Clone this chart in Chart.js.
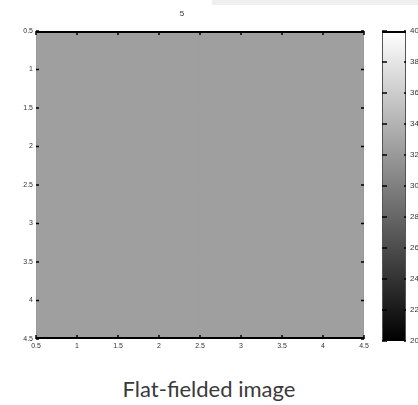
<!DOCTYPE html>
<html>
<head>
<meta charset="utf-8">
<script src="https://cdn.jsdelivr.net/npm/chart.js@4.4.1/dist/chart.umd.min.js"></script>
<style>
  html, body { margin: 0; padding: 0; background: #fff; overflow: hidden; width: 418px; height: 405px; position: relative; }
  #imgBox { position: absolute; left: 0; top: 0; width: 380px; height: 360px; }
  #cbarBox { position: absolute; left: 370px; top: 0; width: 60px; height: 360px; }
  #topStrip { position: absolute; left: 212px; top: 0; width: 206px; height: 5px; background: #efefef; }
  #caption { position: absolute; left: 0; width: 418px; top: 375px; text-align: center;
             font-family: Lato, "Noto Sans", sans-serif; font-size: 22px; color: #3a3a3a; }
</style>
</head>
<body>
<div id="topStrip"></div>
<div id="imgBox"><canvas id="imageChart"></canvas></div>
<div id="cbarBox"><canvas id="cbarChart"></canvas></div>
<div id="caption">Flat-fielded image</div>
<script>
// image frame 5: 4x4 pixels, all flat after flat-fielding
const frameTitle = '5';
const colIndex = [1, 2, 3, 4];
const rowIndex = [1, 2, 3, 4];
const pixelValues = [
  [32.5, 32.5, 32.5, 32.5],
  [32.5, 32.5, 32.5, 32.5],
  [32.5, 32.5, 32.5, 32.5],
  [32.5, 32.5, 32.5, 32.5]
];
const axisTicks = [0.5, 1, 1.5, 2, 2.5, 3, 3.5, 4, 4.5];
const cbarRange = [20, 40];
const cbarTicks = [20, 22, 24, 26, 28, 30, 32, 34, 36, 38, 40];

const tickFont = { family: 'Liberation Sans, Arial, sans-serif', size: 7 };
const tickColor = '#333';

function grayFor(v) {
  let t = (v - cbarRange[0]) / (cbarRange[1] - cbarRange[0]);
  t = Math.max(0, Math.min(1, t));
  const g = Math.round(t * 255);
  return `rgb(${g},${g},${g})`;
}

// MATLAB-like frame with inward tick marks
const frameTicks = {
  id: 'frameTicks',
  afterDraw(chart, args, opts) {
    const ctx = chart.ctx;
    const a = chart.chartArea;
    ctx.save();
    // left / right edges
    ctx.strokeStyle = opts.sideColor || '#888';
    ctx.lineWidth = 1;
    ctx.beginPath();
    ctx.moveTo(a.left + 0.5, a.top); ctx.lineTo(a.left + 0.5, a.bottom);
    ctx.moveTo(a.right - 0.5, a.top); ctx.lineTo(a.right - 0.5, a.bottom);
    ctx.stroke();
    // top / bottom edges
    ctx.strokeStyle = '#000';
    ctx.lineWidth = 2;
    ctx.beginPath();
    ctx.moveTo(a.left, a.top + 1); ctx.lineTo(a.right, a.top + 1);
    if (opts.bottomLine !== false) { ctx.moveTo(a.left, a.bottom - 1); ctx.lineTo(a.right, a.bottom - 1); }
    ctx.stroke();
    ctx.lineWidth = 1.5;
    ctx.beginPath();
    const xs = chart.scales.x;
    if (opts.xTicks !== false) {
      xs.ticks.forEach(t => {
        const px = xs.getPixelForValue(t.value);
        ctx.moveTo(px, a.top); ctx.lineTo(px, a.top + 4);
        ctx.moveTo(px, a.bottom); ctx.lineTo(px, a.bottom - 4);
      });
    }
    const ys = chart.scales.y;
    const inL = opts.leftLen || 3, inR = opts.rightLen || 3;
    ys.ticks.forEach(t => {
      const py = ys.getPixelForValue(t.value);
      ctx.moveTo(a.left, py); ctx.lineTo(a.left + inL, py);
      ctx.moveTo(a.right, py); ctx.lineTo(a.right - inR, py);
    });
    ctx.stroke();
    ctx.restore();
  }
};

// the bar ruler sees the 0.5-step ticks, so 2 x that spacing = one pixel cell
const imageDatasets = rowIndex.map((r, ri) => ({
  data: colIndex.map(c => ({ x: c, y: [r - 0.5, r + 0.5] })),
  backgroundColor: pixelValues[ri].map(grayFor),
  borderWidth: 0,
  inflateAmount: 0.6,
  grouped: false,
  barPercentage: 2,
  categoryPercentage: 1
}));

new Chart(document.getElementById('imageChart'), {
  type: 'bar',
  data: { datasets: imageDatasets },
  options: {
    responsive: true,
    maintainAspectRatio: false,
    animation: false,
    layout: { padding: { right: 16 } },
    plugins: {
      legend: { display: false },
      tooltip: { enabled: false },
      title: {
        display: true,
        text: frameTitle,
        color: tickColor,
        font: { family: 'Liberation Sans, Arial, sans-serif', size: 8, weight: 'normal', lineHeight: 1 },
        padding: { top: 10, bottom: 13 }
      },
      frameTicks: { sideColor: '#999' }
    },
    scales: {
      x: {
        type: 'linear',
        offset: false,
        min: 0.5, max: 4.5,
        afterBuildTicks: s => { s.ticks = axisTicks.map(v => ({ value: v })); },
        afterFit: s => { s.height = 21; },
        grid: { display: false, drawTicks: false, offset: false },
        border: { display: false },
        ticks: { color: tickColor, font: tickFont, padding: 3, maxRotation: 0, autoSkip: false,
                 callback: v => String(v) }
      },
      y: {
        type: 'linear',
        reverse: true,
        min: 0.5, max: 4.5,
        afterBuildTicks: s => { s.ticks = axisTicks.map(v => ({ value: v })); },
        afterFit: s => { s.width = 36; },
        grid: { display: false, drawTicks: false },
        border: { display: false },
        ticks: { color: tickColor, font: tickFont, padding: 3, autoSkip: false,
                 callback: v => String(v) }
      }
    }
  },
  plugins: [frameTicks]
});

// colorbar: one floating bar spanning the colour range, filled with the gray map
new Chart(document.getElementById('cbarChart'), {
  type: 'bar',
  data: {
    labels: [''],
    datasets: [{
      data: [cbarRange],
      backgroundColor: ctx => {
        const chart = ctx.chart;
        if (!chart.chartArea) return '#888';
        const ys = chart.scales.y;
        const g = chart.ctx.createLinearGradient(0, ys.getPixelForValue(cbarRange[0]), 0, ys.getPixelForValue(cbarRange[1]));
        g.addColorStop(0, grayFor(cbarRange[0]));
        g.addColorStop(1, grayFor(cbarRange[1]));
        return g;
      },
      borderWidth: 0,
      inflateAmount: 0,
      barPercentage: 1,
      categoryPercentage: 1
    }]
  },
  options: {
    responsive: true,
    maintainAspectRatio: false,
    animation: false,
    layout: { padding: { left: 12, top: 31, bottom: 0 } },
    plugins: {
      legend: { display: false },
      tooltip: { enabled: false },
      frameTicks: { xTicks: false, bottomLine: false, sideColor: '#555', leftLen: 5, rightLen: 2 }
    },
    scales: {
      x: {
        display: true,
        afterFit: s => { s.height = 19; },
        grid: { display: false, drawTicks: false },
        border: { display: false },
        ticks: { display: false }
      },
      y: {
        type: 'linear',
        position: 'right',
        min: cbarRange[0], max: cbarRange[1],
        afterBuildTicks: s => { s.ticks = cbarTicks.map(v => ({ value: v })); },
        afterFit: s => { s.width = 24; },
        grid: { display: false, drawTicks: false },
        border: { display: false },
        ticks: { color: tickColor, font: { family: 'Liberation Sans, Arial, sans-serif', size: 8 }, padding: 4, autoSkip: false }
      }
    }
  },
  plugins: [frameTicks]
});
</script>
</body>
</html>
